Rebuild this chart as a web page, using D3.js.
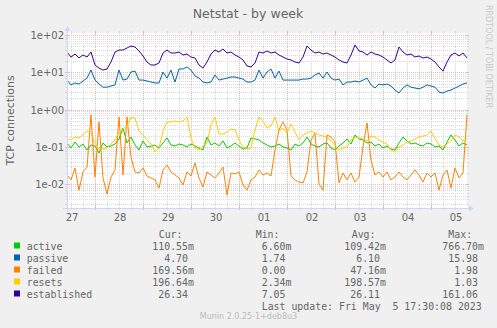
<!DOCTYPE html>
<html><head><meta charset="utf-8">
<script src="https://cdn.jsdelivr.net/npm/d3@7"></script>
<style>
html,body{margin:0;padding:0;background:#F0F0F0;}
svg{display:block;}
text{white-space:pre;}
</style></head><body>
<svg id="chart" width="497" height="328"></svg>
<script>
// ---- data (samples every 2 hours, Apr 27 10:00 -> May 5 18:00) ----
const seriesNames = ["active", "passive", "failed", "resets", "established"];
const seriesColors = ["#00CC00", "#0066B3", "#FF8000", "#FFCC00", "#330099"];

const active = [
  0.128, 0.094, 0.136, 0.100, 0.120, 0.083, 0.113, 0.106, 0.069, 0.128,
  0.100, 0.106, 0.120, 0.164, 0.323, 0.128, 0.185, 0.113, 0.083, 0.145,
  0.100, 0.106, 0.113, 0.094, 0.128, 0.174, 0.113, 0.106, 0.120, 0.113,
  0.100, 0.120, 0.106, 0.094, 0.083, 0.185, 0.113, 0.128, 0.106, 0.145,
  0.094, 0.106, 0.128, 0.106, 0.088, 0.094, 0.174, 0.164, 0.154, 0.128,
  0.113, 0.100, 0.106, 0.120, 0.100, 0.094, 0.083, 0.120, 0.106, 0.128,
  0.185, 0.120, 0.106, 0.100, 0.120, 0.128, 0.094, 0.083, 0.106, 0.128,
  0.164, 0.120, 0.210, 0.164, 0.154, 0.128, 0.136, 0.106, 0.120, 0.094,
  0.106, 0.088, 0.083, 0.128, 0.185, 0.145, 0.120, 0.128, 0.113, 0.106,
  0.128, 0.120, 0.100, 0.106, 0.083, 0.136, 0.210, 0.154, 0.106, 0.128,
  0.113
];
const passive = [
  6.2, 4.6, 5.2, 4.85, 5.85, 7.0, 11.5, 6.2, 4.85, 4.0,
  4.0, 4.3, 4.6, 11.5, 6.2, 6.6, 10.2, 10.8, 6.2, 6.2,
  5.85, 5.5, 5.2, 5.2, 10.2, 7.0, 11.5, 5.5, 12.3, 12.3,
  13.9, 11.5, 8.0, 7.0, 5.5, 5.2, 5.5, 8.5, 6.2, 6.6,
  7.0, 7.5, 7.5, 7.0, 6.6, 5.5, 5.5, 6.2, 11.5, 7.0,
  10.2, 12.3, 7.0, 10.8, 6.2, 6.2, 6.2, 6.2, 6.2, 6.6,
  6.6, 7.0, 8.5, 9.6, 7.0, 10.2, 7.0, 6.2, 6.6, 4.6,
  5.5, 5.5, 5.85, 5.5, 6.2, 7.0, 4.6, 3.8, 4.85, 4.6,
  4.85, 4.3, 3.35, 2.8, 3.8, 4.6, 4.0, 3.8, 3.6, 4.0,
  4.6, 4.3, 4.0, 2.96, 2.8, 3.15, 3.35, 3.8, 4.3, 4.85,
  5.2
];
const failed = [
  0.0178, 0.0131, 0.0273, 0.0070, 0.0214, 0.0289, 0.721, 0.0157, 0.468, 0.0148,
  0.0055, 0.0157, 0.0242, 0.637, 0.0178, 0.637, 0.0540, 0.0214, 0.0201, 0.0273,
  0.0167, 0.0148, 0.0131, 0.0080, 0.0242, 0.0329, 0.0214, 0.0178, 0.0148, 0.0096,
  0.0214, 0.0167, 0.0372, 0.0148, 0.0085, 0.0214, 0.0178, 0.0148, 0.0201, 0.0289,
  0.0052, 0.0201, 0.0190, 0.0214, 0.0096, 0.0070, 0.0131, 0.0157, 0.0242, 0.0178,
  0.0201, 0.0167, 0.083, 0.286, 0.468, 0.286, 0.0167, 0.0131, 0.0115, 0.0109,
  0.0214, 0.154, 0.237, 0.0102, 0.0070, 0.210, 0.185, 0.136, 0.0109, 0.0201,
  0.0131, 0.0201, 0.0115, 0.0157, 0.100, 0.440, 0.0448, 0.0178, 0.0214, 0.0157,
  0.0214, 0.0131, 0.0157, 0.0214, 0.0157, 0.0131, 0.0178, 0.0242, 0.0178, 0.0115,
  0.0201, 0.0157, 0.0201, 0.0070, 0.0178, 0.0242, 0.0080, 0.0273, 0.0148, 0.0201,
  0.721
];
const resets = [
  0.174, 0.154, 0.185, 0.174, 0.210, 0.268, 0.237, 0.128, 0.088, 0.088,
  0.094, 0.120, 0.154, 0.252, 0.304, 0.365, 0.637, 0.599, 0.268, 0.210,
  0.154, 0.120, 0.073, 0.094, 0.268, 0.468, 0.468, 0.498, 0.468, 0.498,
  0.637, 0.174, 0.094, 0.083, 0.106, 0.128, 0.389, 0.637, 0.223, 0.223,
  0.252, 0.304, 0.286, 0.154, 0.100, 0.088, 0.094, 0.286, 0.637, 0.498,
  0.323, 0.365, 0.637, 0.268, 0.323, 0.237, 0.413, 0.252, 0.154, 0.210,
  0.237, 0.268, 0.237, 0.210, 0.197, 0.185, 0.145, 0.113, 0.083, 0.094,
  0.100, 0.154, 0.185, 0.174, 0.164, 0.145, 0.197, 0.185, 0.154, 0.136,
  0.120, 0.083, 0.073, 0.100, 0.113, 0.136, 0.145, 0.164, 0.185, 0.197,
  0.210, 0.268, 0.164, 0.113, 0.100, 0.120, 0.145, 0.210, 0.185, 0.145,
  0.174
];
const established = [
  35, 25.7, 31, 24.2, 29.1, 25.7, 35, 15.7, 13, 11.5,
  12.3, 18.9, 35, 39.6, 39.6, 44.8, 50.8, 47.7, 37.3, 27.4,
  18.9, 15.7, 15.7, 17.8, 32.9, 39.6, 32.9, 32.9, 35, 29.1,
  31, 25.7, 24.2, 15.7, 13, 18.9, 31, 39.6, 35, 42.2,
  32.9, 35, 29.1, 25.7, 21.4, 14.8, 13.9, 17.8, 35, 32.9,
  37.3, 32.9, 35, 29.1, 25.7, 22.7, 21.4, 18.9, 17.8, 25.7,
  50.8, 39.6, 32.9, 35, 31, 32.9, 29.1, 25.7, 21.4, 18.9,
  17.8, 29.1, 54, 37.3, 35, 29.1, 35, 31, 29.1, 25.7,
  21.4, 17.8, 21.4, 47.7, 35, 29.1, 31, 25.7, 27.4, 24.2,
  25.7, 22.7, 18.9, 13.9, 10.8, 18.9, 29.1, 32.9, 27.4, 32.9,
  24.2
];
const seriesData = [active, passive, failed, resets, established];

const legendCur = [0.11055, 4.70, 0.16956, 0.19664, 26.34];
const legendMin = [0.00660, 1.74, 0.00, 0.00234, 7.05];
const legendAvg = [0.10942, 6.10, 0.04716, 0.19857, 26.11];
const legendMax = [0.76670, 15.98, 1.98, 1.03, 161.06];

const yTickValues = [100, 10, 1, 0.1, 0.01];
const yTickLabels = ["1e+02", "1e+01", "1e+00", "1e-01", "1e-02"];
const xTickLabels = ["27", "28", "29", "30", "01", "02", "03", "04", "05"];

const titleText = "Netstat - by week";
const yTitle = "TCP connections";
const lastUpdate = "Last update: Fri May  5 17:30:08 2023";
const watermark = "Munin 2.0.25-1+deb8u3";
const sideText = "RRDTOOL / TOBI OETIKER";

const timeStart = new Date(2023, 3, 27, 10, 0, 0);
const timeEnd = new Date(2023, 4, 5, 18, 0, 0);

// ---- layout ----
const L = 67, R = 467, T = 33, B = 208;
const FONT = "#666666";
const svg = d3.select("#chart");
svg.append("rect").attr("width", 497).attr("height", 328).attr("fill", "#F0F0F0");
svg.append("rect").attr("x", L).attr("y", T).attr("width", R - L).attr("height", B - T).attr("fill", "#FFFFFF");

const x = d3.scaleTime().domain([timeStart, timeEnd]).range([L, R]);
const y = d3.scaleLog().domain([0.01, 100]).range([184.3, 35]);

const gridMinor = "#D9D9D9", gridMajor = "#EFB4B4";
const g = svg.append("g");

// horizontal minor grid
const minorVals = [];
for (let e = -3; e <= 2; e++) for (let k = 2; k <= 9; k++) minorVals.push(k * Math.pow(10, e));
minorVals.forEach(v => {
  const yy = Math.round(y(v)) + 0.5;
  if (yy < T || yy > B) return;
  g.append("line").attr("x1", L).attr("x2", R).attr("y1", yy).attr("y2", yy)
    .attr("stroke", gridMinor).attr("stroke-dasharray", "1,1");
  g.append("line").attr("x1", L - 2).attr("x2", L).attr("y1", yy).attr("y2", yy).attr("stroke", gridMinor);
  g.append("line").attr("x1", R).attr("x2", R + 2).attr("y1", yy).attr("y2", yy).attr("stroke", gridMinor);
});
// vertical minor grid (6h)
d3.timeHour.every(6).range(timeStart, timeEnd).forEach(t => {
  if (t.getHours() === 0) return;
  const xx = Math.round(x(t)) + 0.5;
  g.append("line").attr("x1", xx).attr("x2", xx).attr("y1", T).attr("y2", B)
    .attr("stroke", gridMinor).attr("stroke-dasharray", "1,1");
  g.append("line").attr("x1", xx).attr("x2", xx).attr("y1", B).attr("y2", B + 2).attr("stroke", gridMinor);
  g.append("line").attr("x1", xx).attr("x2", xx).attr("y1", T - 2).attr("y2", T).attr("stroke", gridMinor);
});
// major grid
yTickValues.forEach(v => {
  const yy = Math.round(y(v)) + 0.5;
  g.append("line").attr("x1", L).attr("x2", R).attr("y1", yy).attr("y2", yy)
    .attr("stroke", gridMajor).attr("stroke-dasharray", "1,1");
  g.append("line").attr("x1", L - 2).attr("x2", L + 2).attr("y1", yy).attr("y2", yy).attr("stroke", gridMajor);
  g.append("line").attr("x1", R - 2).attr("x2", R + 2).attr("y1", yy).attr("y2", yy).attr("stroke", gridMajor);
});
d3.timeDay.range(timeStart, timeEnd).forEach(t => {
  const xx = Math.round(x(t)) + 0.5;
  g.append("line").attr("x1", xx).attr("x2", xx).attr("y1", T).attr("y2", B)
    .attr("stroke", gridMajor).attr("stroke-dasharray", "1,1");
  g.append("line").attr("x1", xx).attr("x2", xx).attr("y1", B - 2).attr("y2", B + 2).attr("stroke", gridMajor);
  g.append("line").attr("x1", xx).attr("x2", xx).attr("y1", T - 2).attr("y2", T + 2).attr("stroke", gridMajor);
});

// axis labels
yTickValues.forEach((v, i) => {
  svg.append("text").attr("x", 64).attr("y", y(v) + 4).attr("text-anchor", "end")
    .attr("font-family", "DejaVu Sans").attr("font-size", "10px").attr("fill", FONT).text(yTickLabels[i]);
});
const days = d3.timeDay.range(d3.timeDay.floor(timeStart), timeEnd);
days.forEach((d, i) => {
  const noon = d3.timeHour.offset(d, 12);
  svg.append("text").attr("x", x(noon) + 1).attr("y", 221).attr("text-anchor", "middle")
    .attr("font-family", "DejaVu Sans").attr("font-size", "10px").attr("fill", FONT).text(xTickLabels[i]);
});

// data lines
const clip = svg.append("clipPath").attr("id", "plotclip");
clip.append("rect").attr("x", L).attr("y", T).attr("width", R - L + 1).attr("height", B - T);
const step = (timeEnd - timeStart) / (active.length - 1);
const line = d3.line().x(d => x(d.t)).y(d => y(d.v));
const lines = svg.append("g").attr("clip-path", "url(#plotclip)");
seriesData.forEach((arr, si) => {
  const pts = arr.map((v, i) => ({ t: new Date(+timeStart + i * step), v }));
  lines.append("path").attr("d", line(pts)).attr("fill", "none")
    .attr("stroke", seriesColors[si]).attr("stroke-width", 1).attr("stroke-linejoin", "round");
});

// axes + arrows
const AX = "#CFD6F8";
svg.append("line").attr("x1", L - 4).attr("x2", R + 4).attr("y1", B + 0.5).attr("y2", B + 0.5).attr("stroke", AX);
svg.append("line").attr("x1", L + 0.5).attr("x2", L + 0.5).attr("y1", B + 4).attr("y2", T - 4).attr("stroke", AX);
svg.append("path").attr("d", `M${R + 2},${B - 2.5}L${R + 2},${B + 3.5}L${R + 7},${B + 0.5}Z`).attr("fill", AX);
svg.append("path").attr("d", `M${L - 2.5},${T - 2}L${L + 3.5},${T - 2}L${L + 0.5},${T - 7}Z`).attr("fill", AX);

// titles
svg.append("text").attr("x", 248).attr("y", 18.3).attr("text-anchor", "middle")
  .attr("font-family", "DejaVu Sans").attr("font-size", "12.5px").attr("fill", FONT).text(titleText);
svg.append("text").attr("transform", "translate(14,120.5) rotate(-90)").attr("text-anchor", "middle")
  .attr("font-family", "DejaVu Sans").attr("font-size", "11px").attr("fill", FONT).text(yTitle);
svg.append("text").attr("transform", "translate(485.5,5) rotate(90)").attr("text-anchor", "start")
  .attr("font-family", "DejaVu Sans").attr("font-size", "8px").attr("fill", "#C8C8C8").text(sideText);
svg.append("text").attr("x", 248.5).attr("y", 319).attr("text-anchor", "middle")
  .attr("font-family", "DejaVu Sans").attr("font-size", "8px").attr("fill", "#BBBBBB").text(watermark);

// legend
function fmt(v) {
  let s, u;
  if (v === 0) { s = v.toFixed(2); u = " "; }
  else if (Math.abs(v) < 1) { s = (v * 1000).toFixed(2); u = "m"; }
  else { s = v.toFixed(2); u = " "; }
  return s.padStart(6, " ") + u;
}
const mono = "DejaVu Sans Mono", LF = "9.9px";
const headers = ["Cur:", "Min:", "Avg:", "Max:"];
const headerX = [158.7, 255.7, 351.7, 448.3];
const colX = [152.3, 249.8, 344.3, 442.3];
const cols = [legendCur, legendMin, legendAvg, legendMax];
headers.forEach((h, i) => {
  svg.append("text").attr("x", headerX[i]).attr("y", 237.5).attr("font-family", mono)
    .attr("font-size", LF).attr("fill", FONT).text(h);
});
seriesNames.forEach((n, i) => {
  const by = 249.5 + i * 12;
  svg.append("rect").attr("x", 14).attr("y", by - 7).attr("width", 6).attr("height", 6).attr("fill", seriesColors[i]);
  svg.append("text").attr("x", 26.7).attr("y", by).attr("font-family", mono)
    .attr("font-size", LF).attr("fill", FONT).text(n);
  cols.forEach((c, j) => {
    svg.append("text").attr("x", colX[j]).attr("y", by).attr("font-family", mono)
      .attr("font-size", LF).attr("fill", FONT).text(fmt(c[i]));
  });
});
svg.append("text").attr("x", 261.7).attr("y", 309.5).attr("font-family", mono)
  .attr("font-size", LF).attr("fill", FONT).text(lastUpdate);
</script>
</body></html>
